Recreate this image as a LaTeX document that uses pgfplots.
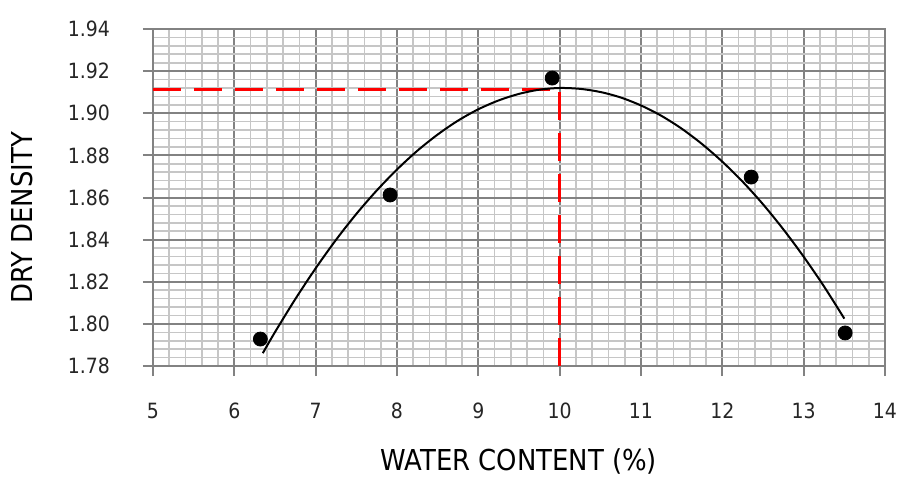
\documentclass[border=0pt]{standalone}
\usepackage{pgfplots}
\pgfplotsset{compat=1.18}
\usepackage{fontspec}
\setmainfont{DejaVu Sans Condensed}
\definecolor{majgrid}{RGB}{130,130,130}
\definecolor{mingrid}{RGB}{198,198,198}
\begin{document}
\begin{tikzpicture}
\begin{axis}[
  scale only axis,
  width=366pt, height=168.5pt,
  xmin=5, xmax=14, ymin=1.78, ymax=1.94,
  xtick={5,6,...,14},
  ytick={1.78,1.80,...,1.941},
  minor x tick num=4, minor y tick num=4,
  grid=both,
  major grid style={draw=majgrid, line width=1pt},
  minor grid style={draw=mingrid, line width=0.8pt},
  axis line style={draw=majgrid, line width=1pt},
  tick pos=left, tick align=outside,
  major tick length=5pt, minor tick length=0pt,
  major tick style={draw=majgrid, line width=1pt},
  /pgf/number format/assume math mode=true,
  yticklabel style={/pgf/number format/fixed, /pgf/number format/fixed zerofill, /pgf/number format/precision=2, xshift=-13pt},
  ticklabel style={font=\fontsize{10.5}{12}\selectfont, text=black!85},
  xticklabel style={yshift=-10pt},
  xlabel={WATER CONTENT (\%)},
  ylabel={DRY DENSITY},
  label style={font=\fontsize{14.4}{17}\selectfont},
  xlabel style={at={(axis description cs:0.5,-0.283)}, anchor=center},
  ylabel style={at={(axis description cs:-0.179,0.44)}, anchor=center},
]
\addplot[red, line width=1.5pt, dash pattern=on 14pt off 6.5pt] coordinates {(5,1.9115) (10,1.9115) (10,1.78)};
\addplot[black, line width=1pt, smooth] coordinates {
(6.35,1.7861) (6.5,1.7961) (6.75,1.8118) (7.0,1.8264) (7.25,1.8399) (7.5,1.8522)
(7.75,1.8633) (8.0,1.8733) (8.25,1.8822) (8.5,1.8899) (8.75,1.8965) (9.0,1.9019)
(9.25,1.9061) (9.5,1.9092) (9.75,1.9112) (10.0,1.9120) (10.25,1.9116) (10.5,1.9101)
(10.75,1.9075) (11.0,1.9037) (11.25,1.8988) (11.5,1.8927) (11.75,1.8854) (12.0,1.8770)
(12.25,1.8675) (12.5,1.8568) (12.75,1.8449) (13.0,1.8319) (13.25,1.8178) (13.5,1.8025)};
\addplot[only marks, mark=*, mark size=3.5pt, black] coordinates {
(6.32,1.7928) (7.915,1.8612) (9.908,1.9167) (12.355,1.8697) (13.51,1.7957)};
\end{axis}
\pgfresetboundingbox
\path (-76.5pt,-56.5pt) rectangle (373pt,183pt);
\end{tikzpicture}
\end{document}
